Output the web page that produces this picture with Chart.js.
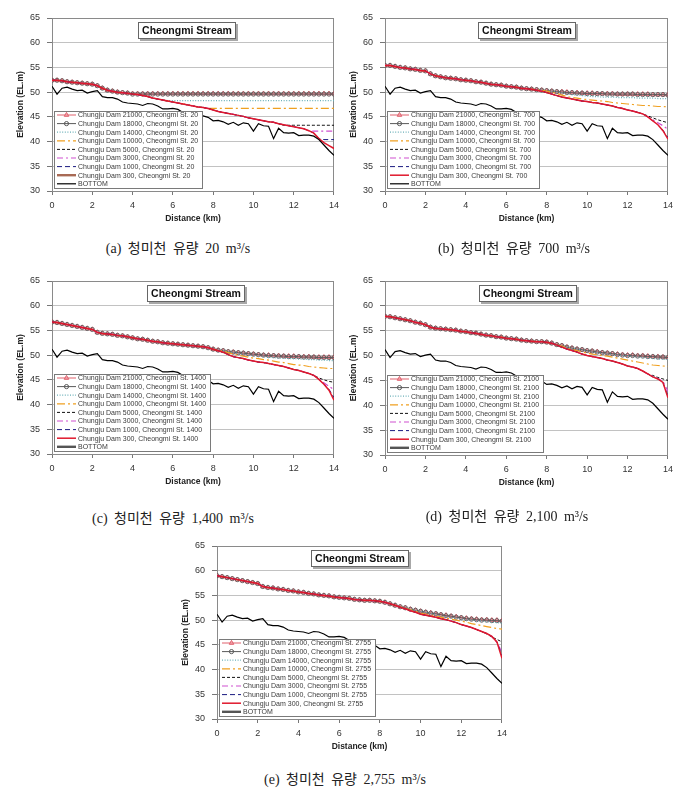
<!DOCTYPE html>
<html><head><meta charset="utf-8">
<script src="https://cdn.jsdelivr.net/npm/chart.js@4.4.0/dist/chart.umd.min.js"></script>
<style>
html,body{margin:0;padding:0;background:#fff;}
body{width:679px;height:791px;position:relative;overflow:hidden;}
canvas{position:absolute;}
.cap{position:absolute;font-family:"Liberation Serif","DejaVu Serif","Noto Sans CJK KR",serif;font-size:14px;color:#222;white-space:nowrap;transform:translate(-50%,-50%);word-spacing:3px;}
</style></head><body>
<script>
const DIST = [0,0.25,0.5,0.75,1,1.25,1.5,1.75,2,2.25,2.5,2.75,3,3.25,3.5,3.75,4,4.25,4.5,4.75,5,5.25,5.5,5.75,6,6.25,6.5,6.75,7,7.25,7.5,7.75,8,8.25,8.5,8.75,9,9.25,9.5,9.75,10,10.25,10.5,10.75,11,11.25,11.5,11.75,12,12.25,12.5,12.75,13,13.25,13.5,13.75,14];
const BOTTOM = [51.2,49.6,50.8,51.0,50.6,50.3,50.4,49.8,50.1,50.3,
49.1,48.9,48.9,48.6,48.0,47.8,47.7,47.6,47.3,47.7,
47.6,47.2,46.6,46.6,46.7,46.5,45.9,45.8,45.9,45.4,
45.2,44.9,44.2,44.3,44.0,43.5,43.9,43.3,43.8,43.6,
42.1,43.6,43.2,43.1,40.6,42.7,41.8,41.7,41.8,41.2,
41.3,41.3,41.1,40.4,39.3,38.2,37.2];

const DAMS = [21000,18000,14000,10000,5000,3000,1000,300];
const STATION_Q = ['20','700','1400','2100','2755'];
const CAPTION_Q = ['20','700','1,400','2,100','2,755'];
const PANEL_TAGS = ['(a)','(b)','(c)','(d)','(e)'];
const X_TICKS = [0,2,4,6,8,10,12,14];
const Y_TICKS = [30,35,40,45,50,55,60,65];

// ---- Panel (a) Q=20 ----
const A_21000 = [52.4,52.4,52.3,52.1,52.0,51.9,51.8,51.7,51.6,51.3,
50.8,50.4,50.2,50.0,49.9,49.8,49.7,49.7,49.7,49.7,
49.7,49.7,49.7,49.7,49.7,49.7,49.7,49.7,49.7,49.7,
49.7,49.7,49.7,49.7,49.7,49.7,49.7,49.7,49.7,49.7,
49.7,49.7,49.7,49.7,49.7,49.7,49.7,49.7,49.7,49.7,
49.7,49.7,49.7,49.7,49.7,49.7,49.7];
const A_18000 = [52.4,52.4,52.3,52.1,52.0,51.9,51.8,51.7,51.6,51.3,
50.8,50.4,50.2,50.0,49.9,49.8,49.6,49.6,49.6,49.6,
49.6,49.6,49.6,49.6,49.6,49.6,49.6,49.6,49.6,49.6,
49.6,49.6,49.6,49.6,49.6,49.6,49.6,49.6,49.6,49.6,
49.6,49.6,49.6,49.6,49.6,49.6,49.6,49.6,49.6,49.6,
49.6,49.6,49.6,49.6,49.6,49.6,49.6];
const A_14000 = [52.4,52.4,52.3,52.1,52.0,51.9,51.8,51.7,51.6,51.3,
50.8,50.4,50.2,50.0,49.9,49.8,49.6,49.5,49.3,49.1,
48.8,48.6,48.4,48.3,48.3,48.3,48.3,48.3,48.3,48.3,
48.3,48.3,48.3,48.3,48.3,48.3,48.3,48.3,48.3,48.3,
48.3,48.3,48.3,48.3,48.3,48.3,48.3,48.3,48.3,48.3,
48.3,48.3,48.3,48.3,48.3,48.3,48.3];
const A_10000 = [52.4,52.4,52.3,52.1,52.0,51.9,51.8,51.7,51.6,51.3,
50.8,50.4,50.2,50.0,49.9,49.8,49.6,49.5,49.3,49.1,
48.8,48.6,48.4,48.2,48.0,47.8,47.6,47.4,47.2,47.0,
46.9,46.7,46.7,46.7,46.7,46.7,46.7,46.7,46.7,46.7,
46.7,46.7,46.7,46.7,46.7,46.7,46.7,46.7,46.7,46.7,
46.7,46.7,46.7,46.7,46.7,46.7,46.7];
const A_5000 = [52.4,52.4,52.3,52.1,52.0,51.9,51.8,51.7,51.6,51.3,
50.8,50.4,50.2,50.0,49.9,49.8,49.6,49.5,49.3,49.1,
48.8,48.6,48.4,48.2,48.0,47.8,47.6,47.4,47.2,47.0,
46.9,46.7,46.4,46.1,45.9,45.7,45.5,45.3,45.1,44.8,
44.6,44.4,44.2,44.0,43.9,43.6,43.3,43.3,43.3,43.3,
43.3,43.3,43.3,43.3,43.3,43.3,43.3];
const A_3000 = [52.4,52.4,52.3,52.1,52.0,51.9,51.8,51.7,51.6,51.3,
50.8,50.4,50.2,50.0,49.9,49.8,49.6,49.5,49.3,49.1,
48.8,48.6,48.4,48.2,48.0,47.8,47.6,47.4,47.2,47.0,
46.9,46.7,46.4,46.1,45.9,45.7,45.5,45.3,45.1,44.8,
44.6,44.4,44.2,44.0,43.9,43.6,43.4,43.2,43.0,42.8,
42.6,42.2,42.1,42.1,42.1,42.1,42.1];
const A_1000 = [52.4,52.4,52.3,52.1,52.0,51.9,51.8,51.7,51.6,51.3,
50.8,50.4,50.2,50.0,49.9,49.8,49.6,49.5,49.3,49.1,
48.8,48.6,48.4,48.2,48.0,47.8,47.6,47.4,47.2,47.0,
46.9,46.7,46.4,46.1,45.9,45.7,45.5,45.3,45.1,44.8,
44.6,44.4,44.2,44.0,43.9,43.6,43.4,43.2,43.0,42.8,
42.6,42.2,41.7,40.6,40.4,40.4,40.4];
const A_300 = [52.4,52.4,52.3,52.1,52.0,51.9,51.8,51.7,51.6,51.3,
50.8,50.4,50.2,50.0,49.9,49.8,49.6,49.5,49.3,49.1,
48.8,48.6,48.4,48.2,48.0,47.8,47.6,47.4,47.2,47.0,
46.9,46.7,46.4,46.1,45.9,45.7,45.5,45.3,45.1,44.8,
44.6,44.4,44.2,44.0,43.9,43.6,43.4,43.2,43.0,42.8,
42.6,42.2,41.7,40.6,39.8,39.2,38.6];

// ---- Panel (b) Q=700 ----
const B_21000 = [55.4,55.4,55.2,55.0,54.9,54.7,54.6,54.4,54.3,53.7,
53.3,53.1,52.9,52.8,52.7,52.5,52.4,52.3,52.1,52.0,
51.8,51.6,51.5,51.4,51.2,51.1,51.0,50.8,50.7,50.6,
50.5,50.4,50.3,50.2,50.1,50.1,50.0,49.9,49.9,49.8,
49.8,49.8,49.7,49.7,49.7,49.7,49.6,49.6,49.6,49.6,
49.6,49.6,49.6,49.5,49.5,49.5,49.5];
const B_18000 = [55.4,55.4,55.2,55.0,54.9,54.7,54.6,54.4,54.3,53.7,
53.3,53.1,52.9,52.8,52.7,52.5,52.4,52.3,52.1,52.0,
51.8,51.6,51.5,51.4,51.2,51.1,51.0,50.8,50.7,50.6,
50.5,50.4,50.3,50.2,50.1,50.0,49.9,49.9,49.8,49.8,
49.7,49.7,49.7,49.7,49.6,49.6,49.6,49.6,49.6,49.6,
49.5,49.5,49.5,49.5,49.5,49.5,49.4];
const B_14000 = [55.4,55.4,55.2,55.0,54.9,54.7,54.6,54.4,54.3,53.7,
53.3,53.1,52.9,52.8,52.7,52.5,52.4,52.3,52.1,52.0,
51.8,51.6,51.5,51.4,51.2,51.1,51.0,50.8,50.7,50.6,
50.5,50.4,50.3,50.2,50.0,49.9,49.7,49.5,49.4,49.3,
49.2,49.1,49.1,49.0,49.0,49.0,48.9,48.9,48.9,48.9,
48.8,48.8,48.8,48.8,48.7,48.7,48.7];
const B_10000 = [55.4,55.4,55.2,55.0,54.9,54.7,54.6,54.4,54.3,53.7,
53.3,53.1,52.9,52.8,52.7,52.5,52.4,52.3,52.1,52.0,
51.8,51.6,51.5,51.4,51.2,51.1,51.0,50.8,50.7,50.6,
50.5,50.4,50.2,50.0,49.7,49.4,49.1,48.9,48.8,48.6,
48.5,48.4,48.3,48.2,48.1,47.9,47.8,47.7,47.6,47.5,
47.4,47.3,47.3,47.2,47.1,47.1,47.0];
const B_5000 = [55.4,55.4,55.2,55.0,54.9,54.7,54.6,54.4,54.3,53.7,
53.3,53.1,52.9,52.8,52.7,52.5,52.4,52.3,52.1,52.0,
51.8,51.6,51.5,51.4,51.2,51.1,51.0,50.8,50.7,50.6,
50.4,50.2,49.9,49.6,49.3,49.0,48.8,48.6,48.4,48.2,
48.1,47.9,47.8,47.6,47.4,47.2,46.9,46.7,46.4,46.2,
45.9,45.6,45.2,44.8,44.4,44.1,43.8];
const B_3000 = [55.4,55.4,55.2,55.0,54.9,54.7,54.6,54.4,54.3,53.7,
53.3,53.1,52.9,52.8,52.7,52.5,52.4,52.3,52.1,52.0,
51.8,51.6,51.5,51.4,51.2,51.1,51.0,50.8,50.7,50.6,
50.4,50.2,49.9,49.6,49.3,49.0,48.8,48.6,48.4,48.2,
48.1,47.9,47.8,47.6,47.4,47.2,46.9,46.7,46.4,46.2,
45.9,45.6,45.0,44.4,43.8,43.2,42.5];
const B_1000 = [55.4,55.4,55.2,55.0,54.9,54.7,54.6,54.4,54.3,53.7,
53.3,53.1,52.9,52.8,52.7,52.5,52.4,52.3,52.1,52.0,
51.8,51.6,51.5,51.4,51.2,51.1,51.0,50.8,50.7,50.6,
50.4,50.2,49.9,49.6,49.3,49.0,48.8,48.6,48.4,48.2,
48.1,47.9,47.8,47.6,47.4,47.2,46.9,46.7,46.4,46.2,
45.9,45.6,45.0,44.2,43.4,42.3,40.8];
const B_300 = [55.4,55.4,55.2,55.0,54.9,54.7,54.6,54.4,54.3,53.7,
53.3,53.1,52.9,52.8,52.7,52.5,52.4,52.3,52.1,52.0,
51.8,51.6,51.5,51.4,51.2,51.1,51.0,50.8,50.7,50.6,
50.4,50.2,49.9,49.6,49.3,49.0,48.8,48.6,48.4,48.2,
48.1,47.9,47.8,47.6,47.4,47.2,46.9,46.7,46.4,46.2,
45.9,45.6,45.0,44.2,43.4,42.2,40.5];

// ---- Panel (c) Q=1400 ----
const C_21000 = [56.7,56.6,56.4,56.2,56.0,55.8,55.6,55.4,55.2,54.6,
54.4,54.3,54.2,54.0,53.9,53.7,53.5,53.3,53.2,53.0,
52.8,52.7,52.5,52.4,52.3,52.2,52.1,52.0,51.9,51.8,
51.7,51.5,51.2,51.0,50.9,50.7,50.6,50.5,50.4,50.3,
50.2,50.1,50.0,50.0,49.9,49.9,49.8,49.8,49.8,49.7,
49.7,49.7,49.6,49.6,49.6,49.6,49.6];
const C_18000 = [56.7,56.6,56.4,56.2,56.0,55.8,55.6,55.4,55.2,54.6,
54.4,54.3,54.2,54.0,53.9,53.7,53.5,53.3,53.2,53.0,
52.8,52.7,52.5,52.4,52.3,52.2,52.1,52.0,51.9,51.8,
51.7,51.5,51.2,51.0,50.9,50.7,50.6,50.5,50.4,50.3,
50.2,50.1,50.0,49.9,49.9,49.8,49.8,49.7,49.7,49.7,
49.6,49.6,49.6,49.5,49.5,49.5,49.5];
const C_14000 = [56.7,56.6,56.4,56.2,56.0,55.8,55.6,55.4,55.2,54.6,
54.4,54.3,54.2,54.0,53.9,53.7,53.5,53.3,53.2,53.0,
52.8,52.7,52.5,52.4,52.3,52.2,52.1,52.0,51.9,51.8,
51.7,51.5,51.2,51.0,50.9,50.7,50.5,50.3,50.1,50.0,
49.9,49.8,49.7,49.6,49.5,49.4,49.4,49.3,49.3,49.2,
49.2,49.1,49.1,49.0,49.0,48.9,48.9];
const C_10000 = [56.7,56.6,56.4,56.2,56.0,55.8,55.6,55.4,55.2,54.6,
54.4,54.3,54.2,54.0,53.9,53.7,53.5,53.3,53.2,53.0,
52.8,52.7,52.5,52.4,52.3,52.2,52.1,52.0,51.9,51.8,
51.7,51.5,51.2,51.0,50.8,50.5,50.2,50.0,49.8,49.6,
49.4,49.3,49.1,49.0,48.8,48.6,48.5,48.3,48.1,48.0,
47.9,47.7,47.6,47.5,47.4,47.3,47.3];
const C_5000 = [56.7,56.6,56.4,56.2,56.0,55.8,55.6,55.4,55.2,54.6,
54.4,54.3,54.2,54.0,53.9,53.7,53.5,53.3,53.2,53.0,
52.8,52.7,52.5,52.4,52.3,52.2,52.1,52.0,51.9,51.8,
51.7,51.5,51.2,50.9,50.6,50.1,49.7,49.5,49.3,49.0,
48.8,48.6,48.5,48.3,48.1,47.9,47.7,47.4,47.1,46.9,
46.6,46.3,45.9,45.4,45.0,44.7,44.5];
const C_3000 = [56.7,56.6,56.4,56.2,56.0,55.8,55.6,55.4,55.2,54.6,
54.4,54.3,54.2,54.0,53.9,53.7,53.5,53.3,53.2,53.0,
52.8,52.7,52.5,52.4,52.3,52.2,52.1,52.0,51.9,51.8,
51.7,51.5,51.2,50.9,50.6,50.1,49.7,49.5,49.3,49.0,
48.8,48.6,48.5,48.3,48.1,47.9,47.7,47.4,47.1,46.9,
46.6,46.3,45.9,45.2,44.4,43.7,43.0];
const C_1000 = [56.7,56.6,56.4,56.2,56.0,55.8,55.6,55.4,55.2,54.6,
54.4,54.3,54.2,54.0,53.9,53.7,53.5,53.3,53.2,53.0,
52.8,52.7,52.5,52.4,52.3,52.2,52.1,52.0,51.9,51.8,
51.7,51.5,51.2,50.9,50.6,50.1,49.7,49.5,49.3,49.0,
48.8,48.6,48.5,48.3,48.1,47.9,47.7,47.4,47.1,46.9,
46.6,46.3,45.9,45.1,44.2,43.1,41.4];
const C_300 = [56.7,56.6,56.4,56.2,56.0,55.8,55.6,55.4,55.2,54.6,
54.4,54.3,54.2,54.0,53.9,53.7,53.5,53.3,53.2,53.0,
52.8,52.7,52.5,52.4,52.3,52.2,52.1,52.0,51.9,51.8,
51.7,51.5,51.2,50.9,50.6,50.1,49.7,49.5,49.3,49.0,
48.8,48.6,48.5,48.3,48.1,47.9,47.7,47.4,47.1,46.9,
46.6,46.3,45.9,45.1,44.1,42.9,40.9];

// ---- Panel (d) Q=2100 ----
const D_21000 = [57.9,57.8,57.6,57.4,57.2,57.0,56.7,56.5,56.2,55.7,
55.5,55.4,55.3,55.2,55.1,54.9,54.8,54.6,54.5,54.3,
54.1,54.0,53.8,53.7,53.5,53.4,53.3,53.1,53.0,52.9,
52.8,52.8,52.7,52.5,52.2,52.0,51.7,51.5,51.3,51.2,
51.0,50.9,50.8,50.6,50.5,50.4,50.3,50.2,50.1,50.1,
50.0,50.0,49.9,49.8,49.8,49.7,49.6];
const D_18000 = [57.9,57.8,57.6,57.4,57.2,57.0,56.7,56.5,56.2,55.7,
55.5,55.4,55.3,55.2,55.1,54.9,54.8,54.6,54.5,54.3,
54.1,54.0,53.8,53.7,53.5,53.4,53.3,53.1,53.0,52.9,
52.8,52.8,52.7,52.5,52.2,52.0,51.7,51.5,51.3,51.2,
51.0,50.9,50.7,50.6,50.5,50.4,50.2,50.1,50.0,50.0,
49.9,49.9,49.8,49.8,49.7,49.7,49.6];
const D_14000 = [57.9,57.8,57.6,57.4,57.2,57.0,56.7,56.5,56.2,55.7,
55.5,55.4,55.3,55.2,55.1,54.9,54.8,54.6,54.5,54.3,
54.1,54.0,53.8,53.7,53.5,53.4,53.3,53.1,53.0,52.9,
52.8,52.8,52.7,52.5,52.2,52.0,51.7,51.5,51.3,51.1,
50.9,50.7,50.6,50.4,50.3,50.2,50.1,50.0,49.9,49.8,
49.7,49.6,49.5,49.4,49.3,49.3,49.2];
const D_10000 = [57.9,57.8,57.6,57.4,57.2,57.0,56.7,56.5,56.2,55.7,
55.5,55.4,55.3,55.2,55.1,54.9,54.8,54.6,54.5,54.3,
54.1,54.0,53.8,53.7,53.5,53.4,53.3,53.1,53.0,52.9,
52.8,52.8,52.7,52.5,52.2,51.9,51.5,51.2,51.0,50.7,
50.5,50.3,50.2,50.0,49.9,49.7,49.5,49.3,49.1,48.9,
48.7,48.5,48.3,48.1,48.0,47.9,47.8];
const D_5000 = [57.9,57.8,57.6,57.4,57.2,57.0,56.7,56.5,56.2,55.7,
55.5,55.4,55.3,55.2,55.1,54.9,54.8,54.6,54.5,54.3,
54.1,54.0,53.8,53.7,53.5,53.4,53.3,53.1,53.0,52.9,
52.8,52.8,52.7,52.5,52.1,51.7,51.3,51.0,50.7,50.3,
50.0,49.8,49.6,49.4,49.1,48.9,48.6,48.3,47.9,47.7,
47.4,46.9,46.3,46.0,45.6,45.3,45.0];
const D_3000 = [57.9,57.8,57.6,57.4,57.2,57.0,56.7,56.5,56.2,55.7,
55.5,55.4,55.3,55.2,55.1,54.9,54.8,54.6,54.5,54.3,
54.1,54.0,53.8,53.7,53.5,53.4,53.3,53.1,53.0,52.9,
52.8,52.8,52.7,52.5,52.1,51.7,51.3,51.0,50.7,50.3,
50.0,49.8,49.6,49.4,49.1,48.9,48.6,48.3,47.9,47.7,
47.4,46.9,46.3,45.8,45.4,44.8,42.8];
const D_1000 = [57.9,57.8,57.6,57.4,57.2,57.0,56.7,56.5,56.2,55.7,
55.5,55.4,55.3,55.2,55.1,54.9,54.8,54.6,54.5,54.3,
54.1,54.0,53.8,53.7,53.5,53.4,53.3,53.1,53.0,52.9,
52.8,52.8,52.7,52.5,52.1,51.7,51.3,51.0,50.7,50.3,
50.0,49.8,49.6,49.4,49.1,48.9,48.6,48.3,47.9,47.7,
47.4,46.9,46.3,45.7,45.3,44.6,41.8];
const D_300 = [57.9,57.8,57.6,57.4,57.2,57.0,56.7,56.5,56.2,55.7,
55.5,55.4,55.3,55.2,55.1,54.9,54.8,54.6,54.5,54.3,
54.1,54.0,53.8,53.7,53.5,53.4,53.3,53.1,53.0,52.9,
52.8,52.8,52.7,52.5,52.1,51.7,51.3,51.0,50.7,50.3,
50.0,49.8,49.6,49.4,49.1,48.9,48.6,48.3,47.9,47.7,
47.4,46.9,46.3,45.7,45.3,44.6,41.5];

// ---- Panel (e) Q=2755 ----
const E_21000 = [59.0,58.8,58.6,58.4,58.2,58.0,57.8,57.6,57.4,56.8,
56.6,56.5,56.3,56.2,56.0,55.9,55.7,55.6,55.4,55.3,
55.1,55.0,54.9,54.7,54.6,54.5,54.4,54.2,54.1,54.0,
54.0,53.9,53.8,53.6,53.3,53.0,52.7,52.5,52.2,52.0,
51.8,51.6,51.5,51.3,51.1,51.0,50.8,50.7,50.5,50.4,
50.3,50.2,50.1,50.1,50.0,50.0,49.9];
const E_18000 = [59.0,58.8,58.6,58.4,58.2,58.0,57.8,57.6,57.4,56.8,
56.6,56.5,56.3,56.2,56.0,55.9,55.7,55.6,55.4,55.3,
55.1,55.0,54.9,54.7,54.6,54.5,54.4,54.2,54.1,54.0,
54.0,53.9,53.8,53.6,53.3,53.0,52.7,52.5,52.2,52.0,
51.8,51.6,51.4,51.3,51.1,50.9,50.8,50.6,50.5,50.3,
50.2,50.1,50.0,50.0,49.9,49.9,49.8];
const E_14000 = [59.0,58.8,58.6,58.4,58.2,58.0,57.8,57.6,57.4,56.8,
56.6,56.5,56.3,56.2,56.0,55.9,55.7,55.6,55.4,55.3,
55.1,55.0,54.9,54.7,54.6,54.5,54.4,54.2,54.1,54.0,
54.0,53.9,53.8,53.6,53.3,53.0,52.7,52.5,52.2,52.0,
51.8,51.6,51.4,51.1,50.8,50.7,50.5,50.4,50.2,50.1,
50.0,49.9,49.8,49.7,49.6,49.5,49.4];
const E_10000 = [59.0,58.8,58.6,58.4,58.2,58.0,57.8,57.6,57.4,56.8,
56.6,56.5,56.3,56.2,56.0,55.9,55.7,55.6,55.4,55.3,
55.1,55.0,54.9,54.7,54.6,54.5,54.4,54.2,54.1,54.0,
54.0,53.9,53.8,53.6,53.3,53.0,52.7,52.4,52.1,51.8,
51.4,51.2,51.0,50.8,50.6,50.4,50.2,50.0,49.8,49.6,
49.3,49.1,48.9,48.7,48.5,48.3,48.2];
const E_5000 = [59.0,58.8,58.6,58.4,58.2,58.0,57.8,57.6,57.4,56.8,
56.6,56.5,56.3,56.2,56.0,55.9,55.7,55.6,55.4,55.3,
55.1,55.0,54.9,54.7,54.6,54.5,54.4,54.2,54.1,54.0,
54.0,53.9,53.8,53.6,53.3,53.0,52.6,52.3,51.9,51.6,
51.2,51.0,50.8,50.6,50.3,50.1,49.8,49.5,49.1,48.8,
48.5,48.1,47.7,47.2,46.6,46.1,45.6];
const E_3000 = [59.0,58.8,58.6,58.4,58.2,58.0,57.8,57.6,57.4,56.8,
56.6,56.5,56.3,56.2,56.0,55.9,55.7,55.6,55.4,55.3,
55.1,55.0,54.9,54.7,54.6,54.5,54.4,54.2,54.1,54.0,
54.0,53.9,53.8,53.6,53.3,53.0,52.6,52.3,51.9,51.6,
51.2,51.0,50.8,50.6,50.3,50.1,49.8,49.5,49.1,48.8,
48.5,48.1,47.7,47.3,46.7,45.5,43.5];
const E_1000 = [59.0,58.8,58.6,58.4,58.2,58.0,57.8,57.6,57.4,56.8,
56.6,56.5,56.3,56.2,56.0,55.9,55.7,55.6,55.4,55.3,
55.1,55.0,54.9,54.7,54.6,54.5,54.4,54.2,54.1,54.0,
54.0,53.9,53.8,53.6,53.3,53.0,52.6,52.3,51.9,51.6,
51.2,51.0,50.8,50.6,50.3,50.1,49.8,49.5,49.1,48.8,
48.5,48.1,47.7,47.3,46.7,45.6,42.8];
const E_300 = [59.0,58.8,58.6,58.4,58.2,58.0,57.8,57.6,57.4,56.8,
56.6,56.5,56.3,56.2,56.0,55.9,55.7,55.6,55.4,55.3,
55.1,55.0,54.9,54.7,54.6,54.5,54.4,54.2,54.1,54.0,
54.0,53.9,53.8,53.6,53.3,53.0,52.6,52.3,51.9,51.6,
51.2,51.0,50.8,50.6,50.3,50.1,49.8,49.5,49.1,48.8,
48.5,48.1,47.7,47.3,46.7,45.6,42.3];

const SERIES = [
  [A_21000,A_18000,A_14000,A_10000,A_5000,A_3000,A_1000,A_300],
  [B_21000,B_18000,B_14000,B_10000,B_5000,B_3000,B_1000,B_300],
  [C_21000,C_18000,C_14000,C_10000,C_5000,C_3000,C_1000,C_300],
  [D_21000,D_18000,D_14000,D_10000,D_5000,D_3000,D_1000,D_300],
  [E_21000,E_18000,E_14000,E_10000,E_5000,E_3000,E_1000,E_300]
];

// ---- styles & layout (not data) ----
const FONT = '"Liberation Sans", Arial, sans-serif';
const STYLES = [
  {color:'#e0606c', width:1, dash:[], pt:'triangle', r:2.6, pbg:'rgba(240,150,160,0.6)', pbd:'#e0606c'},
  {color:'#5a5a5a', width:1, dash:[], pt:'circle', r:2.1, pbg:'rgba(255,255,255,0)', pbd:'#5a5a5a'},
  {color:'#6ab0b8', width:1.2, dash:[1,1.6]},
  {color:'#f0a020', width:1.2, dash:[8,3,2,3]},
  {color:'#111111', width:1, dash:[3,2]},
  {color:'#d050d0', width:1.2, dash:[6,3,2,3]},
  {color:'#1a1a80', width:1, dash:[5,3]},
  {color:'#e0182c', width:1.5, dash:[]}
];
const LAYOUT = [
  {L:52, T:18, R:334, B:191, cx:178, cy:247, tdx:-6},
  {L:385,T:18, R:668, B:191, cx:514, cy:247, tdx:1},
  {L:52, T:281,R:334, B:454, cx:173, cy:517, tdx:3, bottomLeg:true},
  {L:385,T:281,R:668, B:455, cx:507, cy:515, tdx:2, bottomLeg:true},
  {L:217,T:546,R:502, B:719, cx:345, cy:778, tdx:1, bottomLeg:true}
];
const PADL=14, AXW=38, PADT=18, PADR=10, AXH=34;

const decor = {
  id:'decor',
  beforeDatasetsDraw(chart){
    const {ctx, chartArea:a} = chart;
    ctx.save(); ctx.strokeStyle='#8a8a8a'; ctx.lineWidth=1;
    ctx.strokeRect(Math.round(a.left)+0.5, Math.round(a.top)+0.5, Math.round(a.right-a.left)-1, Math.round(a.bottom-a.top));
    ctx.restore();
  },
  afterDraw(chart, args, opts){
    const {ctx, chartArea:a} = chart;
    ctx.save();
    ctx.font = 'bold 10.5px '+FONT;
    const title = 'Cheongmi Stream';
    const tw = ctx.measureText(title).width;
    const bw = Math.round(tw+8), bh = 17;
    const bx = Math.round((a.left+a.right)/2 + (opts.tdx||0) - bw/2), by = Math.round(a.top+4);
    ctx.fillStyle='#a8a8a8'; ctx.fillRect(bx+2, by+2, bw, bh);
    ctx.fillStyle='#fff'; ctx.fillRect(bx, by, bw, bh);
    ctx.strokeStyle='#666'; ctx.lineWidth=1; ctx.strokeRect(bx+0.5, by+0.5, bw-1, bh-1);
    ctx.fillStyle='#111'; ctx.textBaseline='middle'; ctx.textAlign='center';
    ctx.fillText(title, bx+bw/2, by+bh/2+0.5);
    const ds = chart.data.datasets;
    ctx.font = '7px '+FONT;
    let mw = 0; ds.forEach(d=>{ mw=Math.max(mw, ctx.measureText(d.label).width); });
    const rowH = 8.6, n = ds.length;
    const lh = Math.round((n-1)*rowH + 8), lw = Math.round(24 + mw + 4);
    const lx = Math.round(a.left+2), ly = Math.round(a.bottom-3-lh);
    ctx.fillStyle='#fff'; ctx.fillRect(lx, ly, lw, lh);
    ctx.strokeStyle='#7a7a7a'; ctx.strokeRect(lx+0.5, ly+0.5, lw, lh);
    ds.forEach((d,i)=>{
      const cy = ly + 4 + i*rowH;
      ctx.save();
      ctx.strokeStyle = d.legendColor || d.borderColor;
      ctx.lineWidth = d.legendWidth || d.borderWidth;
      ctx.setLineDash(d.borderDash||[]);
      ctx.beginPath(); ctx.moveTo(lx+3, cy); ctx.lineTo(lx+22, cy); ctx.stroke();
      ctx.setLineDash([]);
      if (d.pointRadius>0){
        ctx.fillStyle=d.pointBackgroundColor; ctx.strokeStyle=d.pointBorderColor; ctx.lineWidth=1;
        Chart.helpers.drawPoint(ctx, {pointStyle:d.pointStyle, radius:d.pointRadius, rotation:0, borderWidth:1}, lx+12.5, cy);
      }
      ctx.restore();
      ctx.fillStyle='#3a3a3a'; ctx.textAlign='left'; ctx.textBaseline='middle';
      ctx.fillText(d.label, lx+24, cy+0.5);
    });
    ctx.restore();
  }
};

SERIES.forEach((set, p)=>{
  const G = LAYOUT[p];
  const cv = document.createElement('canvas');
  const W = (G.R-G.L)+PADL+AXW+PADR, H = (G.B-G.T)+PADT+AXH;
  cv.width=W; cv.height=H; cv.style.width=W+'px'; cv.style.height=H+'px';
  cv.style.left=(G.L-PADL-AXW)+'px'; cv.style.top=(G.T-PADT)+'px';
  document.body.appendChild(cv);
  const datasets = set.map((vals,i)=>{
    const S = STYLES[i];
    return {
      label:`Chungju Dam ${DAMS[i]}, Cheongmi St. ${STATION_Q[p]}`,
      data: DIST.map((d,j)=>({x:d, y:vals[j]})),
      borderColor:S.color, borderWidth:S.width, borderDash:S.dash,
      pointStyle:S.pt||'circle', pointRadius:S.pt?S.r:0,
      pointBackgroundColor:S.pbg||S.color, pointBorderColor:S.pbd||S.color, pointBorderWidth:0.9,
      legendColor:(p===0 && i===7)?'#a86a55':undefined, legendWidth:(p===0 && i===7)?2.4:undefined,
      tension:0, fill:false, order:10-i
    };
  });
  datasets.push({label:'BOTTOM', data:DIST.map((d,j)=>({x:d,y:BOTTOM[j]})), borderColor:'#000', borderWidth:1.2, pointRadius:0, tension:0, fill:false, order:1,
    legendColor:G.bottomLeg?'#555':undefined, legendWidth:G.bottomLeg?2.4:undefined});
  new Chart(cv, {
    type:'line',
    data:{datasets},
    plugins:[decor],
    options:{
      responsive:false, animation:false, devicePixelRatio:1,
      layout:{padding:{left:PADL, top:PADT, right:PADR, bottom:0}},
      plugins:{legend:{display:false}, tooltip:{enabled:false}, decor:{tdx:G.tdx}},
      scales:{
        x:{type:'linear', min:X_TICKS[0], max:X_TICKS[X_TICKS.length-1],
          afterBuildTicks(s){ s.ticks = X_TICKS.map(v=>({value:v})); },
          afterFit(s){ s.height=AXH; },
          ticks:{font:{family:FONT,size:9}, color:'#333', padding:5, maxRotation:0, autoSkip:false},
          grid:{drawOnChartArea:false, drawTicks:true, tickLength:4, tickColor:'#777'},
          border:{color:'#777'},
          title:{display:true, text:'Distance (km)', font:{family:FONT,size:8.5,weight:'bold'}, color:'#222', padding:{top:0,bottom:1}}
        },
        y:{min:Y_TICKS[0], max:Y_TICKS[Y_TICKS.length-1],
          afterBuildTicks(s){ s.ticks = Y_TICKS.map(v=>({value:v})); },
          afterFit(s){ s.width=AXW; },
          ticks:{font:{family:FONT,size:9}, color:'#333', padding:7, autoSkip:false},
          grid:{color:'#c2c2c2', tickLength:5, tickColor:'#777'},
          border:{color:'#777'},
          title:{display:true, text:'Elevation (EL.m)', font:{family:FONT,size:8.5,weight:'bold'}, color:'#222', padding:{top:2,bottom:0}}
        }
      }
    }
  });
  const cap = document.createElement('div');
  cap.className='cap';
  cap.style.left=G.cx+'px'; cap.style.top=G.cy+'px';
  cap.textContent = `${PANEL_TAGS[p]} 청미천 유량 ${CAPTION_Q[p]} m³/s`;
  document.body.appendChild(cap);
});
</script>
</body></html>
